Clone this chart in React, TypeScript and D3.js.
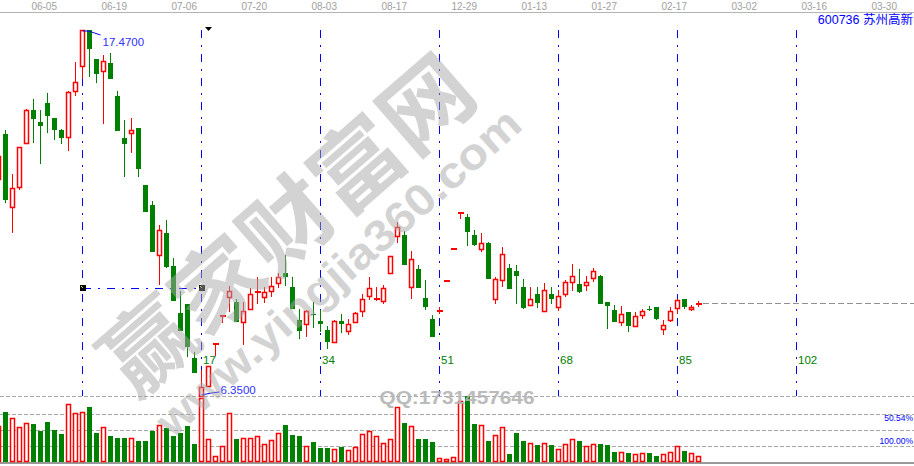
import React from 'react';
import * as d3 from 'd3';

// candle index of the first element in the arrays below
const START_INDEX = -12;

const opens = [12.94,14.31,12.09,12.70,14.04,15.04,14.68,15.25,14.80,14.43,14.22,15.62,
  16.38,17.47,16.59,16.23,16.47,15.47,14.19,14.34,14.49,12.76,12.15,10.63,11.30,10.30,8.87,9.15,7.50,
  6.35,6.65,7.96,8.81,9.36,9.21,8.60,8.99,9.51,9.36,9.54,9.78,10.09,9.66,8.66,8.54,8.84,
  8.63,8.36,7.99,8.63,8.32,8.60,8.93,9.39,9.30,9.24,10.09,11.21,11.24,9.66,10.21,9.33,8.69,
  8.96,9.87,10.84,11.94,11.79,11.24,10.82,11.00,9.30,9.87,10.24,10.15,9.66,9.12,9.45,8.93,9.45,
  9.05,9.45,9.81,9.75,9.72,9.94,10.00,9.21,8.96,8.60,8.90,8.48,8.81,9.00,9.05,8.39,8.66,
  9.02,9.30,8.99,9.17];
const highs = [13.64,14.43,13.10,13.92,15.07,15.37,15.04,15.56,14.80,14.46,15.62,16.50,
  17.47,17.47,16.59,16.71,16.77,15.62,14.74,14.80,14.49,12.76,12.27,11.55,11.70,10.54,9.54,9.15,7.69,
  7.14,7.26,7.97,8.82,9.69,9.30,9.21,9.63,9.97,9.66,9.97,10.09,10.63,9.97,8.99,8.96,9.21,
  8.96,8.48,8.66,8.84,8.69,8.90,9.45,9.97,9.66,9.72,10.60,11.64,11.36,10.76,10.33,9.87,8.81,
  9.05,9.88,10.85,11.95,11.88,11.39,11.30,11.03,9.97,10.88,10.36,10.33,9.90,9.66,9.66,9.78,9.66,
  9.57,9.87,10.36,10.21,10.00,10.24,10.03,9.21,9.12,9.08,8.90,8.90,8.99,9.08,9.05,8.66,9.05,
  9.30,9.30,9.12,9.24];
const lows = [12.94,12.21,11.30,12.61,14.04,14.04,13.40,14.34,14.13,14.01,13.79,15.47,
  15.98,16.04,15.86,14.61,15.98,14.40,13.00,13.73,13.00,11.94,10.73,9.72,10.24,9.24,8.32,7.53,7.05,
  6.35,6.62,7.60,8.60,8.90,8.60,7.90,8.99,9.18,9.18,9.36,9.63,9.69,8.99,8.08,8.14,8.42,
  8.29,7.78,7.99,8.26,8.20,8.60,8.75,9.27,9.27,9.15,10.06,11.00,10.33,9.30,9.63,8.96,8.14,
  8.87,9.87,10.84,11.76,10.91,10.91,10.73,9.90,9.15,9.66,9.60,9.15,8.99,9.12,9.02,8.93,9.15,
  8.93,9.36,9.54,9.48,9.54,9.81,9.15,8.39,8.60,8.48,8.29,8.45,8.69,8.93,8.66,8.20,8.60,
  8.84,8.99,8.93,9.08];
const closes = [13.64,12.31,12.67,13.92,15.04,14.77,14.55,14.86,14.43,14.19,15.59,15.89,
  17.47,16.89,16.13,16.53,15.98,14.40,14.01,14.43,13.25,11.94,10.73,11.39,10.27,9.24,8.32,7.84,7.05,
  6.62,7.26,7.97,8.82,9.54,8.60,8.93,9.45,9.54,9.51,9.69,9.97,9.97,8.99,8.32,8.93,8.81,
  8.54,7.99,8.63,8.54,8.54,8.87,9.30,9.63,9.33,9.63,10.60,11.48,10.33,10.51,9.63,9.05,8.14,
  8.97,9.88,10.85,11.95,11.33,10.94,11.00,9.90,9.90,10.66,9.60,10.00,9.02,9.30,9.18,9.57,9.30,
  9.39,9.81,10.00,9.51,9.81,10.15,9.15,9.08,8.60,8.84,8.48,8.78,8.93,8.99,8.69,8.51,8.93,
  9.27,9.05,9.05,9.18];
const volumes = [36,50,44,35,39,38,31,40,32,28,58,49,
  50,55,29,35,26,24,24,24,21,21,31,37,34,26,29,36,18,
  64,23,6,16,49,23,24,24,26,18,22,29,37,27,26,16,20,
  14,14,13,15,12,15,28,31,26,19,23,55,39,36,23,23,20,
  4,3,5,61,66,38,37,21,27,35,8,29,21,19,17,19,17,
  13,18,23,21,16,18,18,17,10,10,9,8,9,9,6,8,10,
  16,11,9,6];

const dateLabels = ['06-05','06-19','07-06','07-20','08-03','08-17','12-29','01-13','01-27','02-17','03-02','03-16','03-30'];
const markerIndex = [0, 17, 34, 51, 68, 85, 102];
const markerLabels = ['', '17', '34', '51', '68', '85', '102'];
const lineLevel = 9.63;
const title = '600736 苏州高新';
const volLabels = ['50.54%', '100.00%'];
const volGrid = [16, 32, 48, 66];
const watermarkCN = '赢家财富网';
const watermarkURL = 'www.yingjia360.com';
const watermarkQQ = 'QQ:1731457646';

const RED = '#ff0000';
const GREEN = '#008000';
const BLUE = '#0000ff';
const FONT = '"Liberation Sans", Arial, sans-serif';

// hollow box with a slightly soft red outline
function Hollow({ x0, y0, w, h, color }: { x0: number; y0: number; w: number; h: number; color: string }) {
  return (
    <rect x={x0 + 0.5} y={y0 + 0.5} width={w - 1} height={Math.max(h - 1, 0.01)} fill="#fff" stroke={color}
      strokeWidth={1.5} shapeRendering="geometricPrecision" />
  );
}

export default function App() {
  const W = 914, H = 466;
  const x = d3.scaleLinear().domain([0, 17]).range([82, 201]);
  const y = d3.scaleLinear().domain([6.35, 17.47]).range([396, 30]);
  const yv = d3.scaleLinear().domain([0, 66]).range([462, 396]);

  const candles = opens.map((o, i) => ({
    idx: START_INDEX + i, o, h: highs[i], l: lows[i], c: closes[i], v: volumes[i],
  }));

  const hiIdx = d3.maxIndex(candles, d => d.h);
  const loIdx = d3.minIndex(candles, d => d.l);
  const hi = candles[hiIdx];
  const lo = candles[loIdx];
  const last = candles[candles.length - 1];

  const candleEls = candles.map((d, i) => {
    const cx = Math.round(x(d.idx));
    const up = d.c >= d.o;
    const t = Math.round(y(Math.max(d.o, d.c)));
    const b = Math.round(y(Math.min(d.o, d.c)));
    const yh = Math.round(y(d.h));
    const yl = Math.round(y(d.l));
    const col = up ? RED : GREEN;
    if (up) {
      if (b - t >= 2) {
        return (
          <g key={i}>
            {yh < t && <rect x={cx} y={yh} width={1} height={t - yh} fill={col} />}
            {yl > b && <rect x={cx} y={b} width={1} height={yl - b} fill={col} />}
            <Hollow x0={cx - 2} y0={t} w={5} h={b - t + 1} color={col} />
          </g>
        );
      }
      return (
        <g key={i}>
          {yl > yh && <rect x={cx} y={yh} width={1} height={yl - yh + 1} fill={col} />}
          <rect x={cx - 2} y={t} width={6} height={1.5} fill={col} />
        </g>
      );
    }
    return (
      <g key={i}>
        {yl > yh && <rect x={cx} y={yh} width={1} height={yl - yh} fill={col} />}
        <rect x={cx - 2} y={t} width={5} height={Math.max(b - t, 1)} fill={col} />
      </g>
    );
  });

  const volEls = candles.map((d, i) => {
    const cx = Math.round(x(d.idx));
    const up = d.c >= d.o;
    const top = Math.round(yv(d.v));
    const base = Math.round(yv(0));
    if (up) {
      return <Hollow key={i} x0={cx - 2} y0={top} w={5} h={base - top} color={RED} />;
    }
    return <rect key={i} x={cx - 2} y={top} width={5} height={base - top} fill={GREEN} />;
  });

  const hx = Math.round(x(hi.idx)) + 0.5;
  const hy = Math.round(y(hi.h));
  const lx = Math.round(x(lo.idx)) + 0.5;
  const ly = Math.round(y(lo.l));
  const lineY = Math.round(y(lineLevel)) + 0.5;
  const lastY = Math.round(y(last.c)) + 0.5;

  return (
    <svg width={W} height={H} style={{ position: 'absolute', left: 0, top: 0, display: 'block', background: '#fff' }}
      fontFamily={FONT} shapeRendering="crispEdges">
      <rect x={0} y={0} width={W} height={H} fill="#fff" />
      {/* top date axis */}
      <line x1={0} x2={W} y1={12.5} y2={12.5} stroke="#b4b4b4" />
      {dateLabels.map((s, k) => (
        <text key={s} x={x(-5.4 + 10 * k)} y={10} fontSize={10} fill="#a0a0a0" textAnchor="middle">{s}</text>
      ))}
      <text x={913} y={24} fontSize={12.5} fill={BLUE} textAnchor="end"
        fontFamily={'"Liberation Sans", "Noto Sans CJK SC", sans-serif'}>{title}</text>

      {/* volume grid */}
      {volGrid.map(g => (
        <line key={g} x1={0} x2={W} y1={Math.round(yv(g)) + 0.5} y2={Math.round(yv(g)) + 0.5}
          stroke="#a8a8a8" strokeDasharray="4,2" />
      ))}
      <rect x={0} y={462} width={W} height={2} fill="#999" />
      <text x={913} y={421} fontSize={8.5} fill={BLUE} textAnchor="end">{volLabels[0]}</text>
      <text x={913} y={444} fontSize={8.5} fill={BLUE} textAnchor="end">{volLabels[1]}</text>

      {/* vertical cycle lines */}
      {markerIndex.map((m, k) => {
        const vx = Math.round(x(m)) + 0.5;
        return (
          <g key={m}>
            <line x1={vx} x2={vx} y1={30} y2={396} stroke={BLUE} strokeDasharray="8,7,2,7" />
            {markerLabels[k] && (
              <text x={vx + 1.5} y={364} fontSize={11.5} fill={GREEN}>{markerLabels[k]}</text>
            )}
          </g>
        );
      })}

      {/* horizontal drawing line */}
      <line x1={Math.round(x(0)) + 0.5} x2={Math.round(x(17)) + 0.5} y1={lineY} y2={lineY}
        stroke={BLUE} strokeDasharray="8,7,2,7" />
      {[0, 17].map(m => {
        const mx = Math.round(x(m));
        return (
          <g key={'sq' + m}>
            <rect x={mx - 2} y={lineY - 3.5} width={6} height={6} fill="#000" />
            <rect x={mx - 1} y={lineY - 2.5} width={1} height={1} fill="#ffff00" />
            <rect x={mx} y={lineY - 1.5} width={1} height={1} fill="#cccc00" />
          </g>
        );
      })}
      {/* small triangle marker */}
      <path d={`M${Math.round(x(18)) - 3},27 L${Math.round(x(18)) + 4},27 L${Math.round(x(18)) + 0.5},31 Z`} fill="#000"
        shapeRendering="auto" />

      {/* last price dashed line */}
      <line x1={Math.round(x(last.idx)) + 5} x2={W} y1={lastY} y2={lastY} stroke="#909090" strokeDasharray="6,3" />

      {volEls}
      {candleEls}

      {/* high / low annotations */}
      <path d={`M${hx},${hy + 1} L${hx + 6},${hy + 1} L${hx + 12},${hy + 3} L${hx + 18},${hy + 5}`} fill="none"
        stroke={BLUE} shapeRendering="auto" />
      <text x={hx + 20} y={hy + 16} fontSize={11.5} fill="#3030ff">{hi.h.toFixed(4)}</text>
      <path d={`M${lx},${ly - 1} L${lx + 10},${ly - 3} L${lx + 18},${ly - 4}`} fill="none" stroke={BLUE}
        shapeRendering="auto" />
      <text x={lx + 19} y={ly - 2} fontSize={11.5} fill="#3030ff">{lo.l.toFixed(4)}</text>

      {/* watermarks */}
      <g opacity={0.5} shapeRendering="auto">
        <text x={283} y={220} transform="rotate(-41 283 220)" fontSize={88} fontWeight={700} fill="#a8a8a8"
          textAnchor="middle" dominantBaseline="central" textLength={460} lengthAdjust="spacingAndGlyphs"
          fontFamily={'"Noto Sans CJK SC", sans-serif'}>{watermarkCN}</text>
        <text x={338} y={272} transform="rotate(-41.5 338 272)" fontSize={44} fontWeight={700} fill="#a8a8a8"
          textAnchor="middle" dominantBaseline="central" textLength={470} lengthAdjust="spacingAndGlyphs">{watermarkURL}</text>
      </g>
      <text x={457} y={404} fontSize={19} fontWeight={700} fill="#b4b4b4" textAnchor="middle" opacity={0.9}
        textLength={155} lengthAdjust="spacingAndGlyphs" shapeRendering="auto">{watermarkQQ}</text>
    </svg>
  );
}
